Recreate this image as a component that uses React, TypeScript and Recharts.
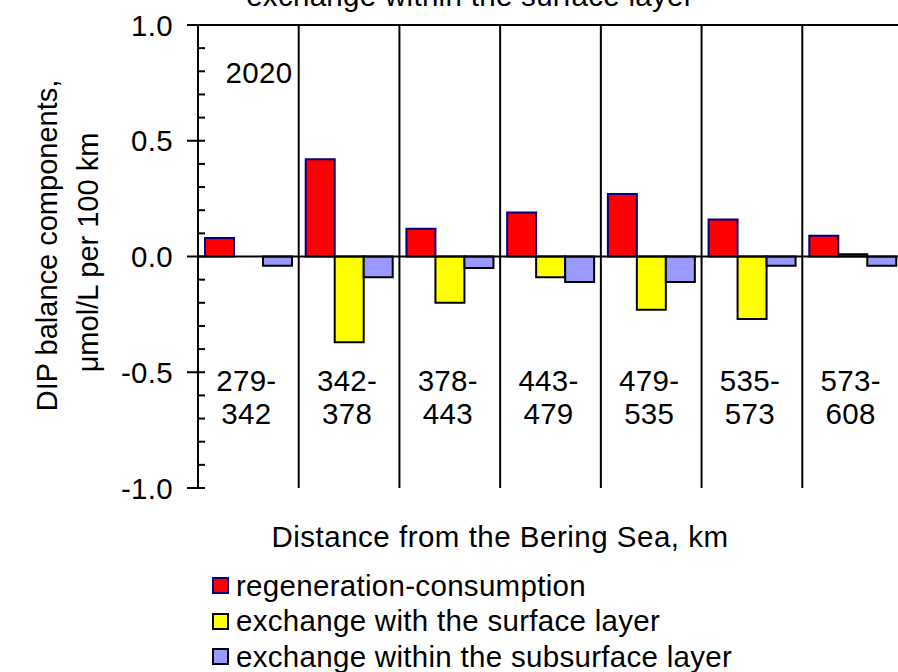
import {
  BarChart,
  Bar,
  XAxis,
  YAxis,
  CartesianGrid,
  ReferenceLine,
  Legend,
  Label,
  Customized,
} from "recharts";

const FONT = "'Liberation Sans', Arial, sans-serif";
const FS = 29.5;
const LS = 0.3;

const ranges = ["279-342", "342-378", "378-443", "443-479", "479-535", "535-573", "573-608"];
const regeneration = [0.08, 0.42, 0.12, 0.19, 0.27, 0.16, 0.09];
const surfaceExchange = [null, -0.37, -0.2, -0.09, -0.23, -0.27, 0.01];
const subsurfaceExchange = [-0.04, -0.09, -0.05, -0.11, -0.11, -0.04, -0.04];

const yTicks = [-1.0, -0.9, -0.8, -0.7, -0.6, -0.5, -0.4, -0.3, -0.2, -0.1, 0, 0.1, 0.2, 0.3, 0.4, 0.5, 0.6, 0.7, 0.8, 0.9, 1.0];
const majorTicks = [-1.0, -0.5, 0, 0.5, 1.0];

const seriesKeys = ["reg", "surf", "sub"];
const seriesNames = [
  "regeneration-consumption",
  "exchange with the surface layer",
  "exchange within the subsurface layer",
];

const seriesStyle: Record<string, { fill: string; stroke: string }> = {
  reg: { fill: "#FF0000", stroke: "#000080" },
  surf: { fill: "#FFFF00", stroke: "#000000" },
  sub: { fill: "#9999FF", stroke: "#000000" },
};

const data = ranges.map((range, i) => ({
  range,
  reg: regeneration[i],
  surf: surfaceExchange[i],
  sub: subsurfaceExchange[i],
}));

function YTick(props: any) {
  const { x, y, payload } = props;
  const v = payload.value;
  const major = majorTicks.some((m) => Math.abs(m - v) < 1e-6);
  return (
    <g>
      <line x1={major ? x - 11 : x} x2={x + 7} y1={y} y2={y} stroke="#000" strokeWidth={2} />
      {major && (
        <text x={x - 25} y={y} dy="0.36em" textAnchor="end" fontSize={FS} letterSpacing={LS} fontFamily={FONT} fill="#000">
          {v.toFixed(1)}
        </text>
      )}
    </g>
  );
}

function XTick(props: any) {
  const { x, y, payload } = props;
  const [a, b] = String(payload.value).split("-");
  return (
    <text textAnchor="middle" fontSize={FS} letterSpacing={LS} fontFamily={FONT} fill="#000">
      <tspan x={x - 2} y={y - 97}>{a}-</tspan>
      <tspan x={x - 2} y={y - 64}>{b}</tspan>
    </text>
  );
}

function YTitle(props: any) {
  const { viewBox } = props;
  const cy = viewBox.y + viewBox.height / 2;
  return (
    <g fontSize={29} fontFamily={FONT} fill="#000">
      <text x={47} y={cy - 11} transform={`rotate(-90 47 ${cy - 11})`} textAnchor="middle" dominantBaseline="central">
        DIP balance components,
      </text>
      <text x={88} y={cy - 4} transform={`rotate(-90 88 ${cy - 4})`} textAnchor="middle" dominantBaseline="central">
        μmol/L per 100 km
      </text>
    </g>
  );
}

function XTitle(props: any) {
  const { viewBox } = props;
  return (
    <text x={viewBox.x + 302} y={viewBox.y + 59} textAnchor="middle" fontSize={FS} letterSpacing={0.5} fontFamily={FONT} fill="#000">
      Distance from the Bering Sea,  km
    </text>
  );
}

function LegendContent(props: any) {
  const items = [...(props.payload || [])].sort(
    (p: any, q: any) => seriesKeys.indexOf(p.dataKey) - seriesKeys.indexOf(q.dataKey)
  );
  return (
    <div style={{ fontFamily: FONT, fontSize: FS, letterSpacing: LS, color: "#000" }}>
      {items.map((item: any) => {
        const st = seriesStyle[item.dataKey];
        return (
          <div key={item.dataKey} style={{ display: "flex", alignItems: "center", height: 35.5, whiteSpace: "nowrap" }}>
            <span
              style={{
                display: "inline-block",
                width: 13,
                height: 13,
                background: st.fill,
                border: `2px solid ${st.stroke}`,
                marginRight: 7,
              }}
            />
            <span>{item.value}</span>
          </div>
        );
      })}
    </div>
  );
}

function Annotations() {
  return (
    <g fontSize={FS} fontFamily={FONT} fill="#000" letterSpacing={LS}>
      <text x={470} y={6} textAnchor="middle">exchange within the surface layer</text>
      <text x={259} y={72} dy="0.36em" textAnchor="middle">2020</text>
    </g>
  );
}

export default function App() {
  return (
    <div style={{ position: "absolute", left: 0, top: 0, width: 898, height: 672, overflow: "hidden", background: "#fff" }}>
      <BarChart
        width={903}
        height={672}
        data={data}
        margin={{ top: 25, right: 0, bottom: 0, left: 0 }}
        barCategoryGap={7}
        barGap={0}
      >
        <CartesianGrid
          stroke="#000"
          strokeWidth={2}
          horizontalCoordinatesGenerator={({ offset }: any) => [offset.top]}
          verticalCoordinatesGenerator={({ offset }: any) =>
            ranges.map((_, i) => offset.left + (offset.width * (i + 1)) / ranges.length)
          }
        />
        <XAxis
          dataKey="range"
          height={184}
          axisLine={false}
          tickLine={false}
          tickSize={0}
          tickMargin={0}
          interval={0}
          tick={<XTick />}
        >
          <Label content={<XTitle />} />
        </XAxis>
        <YAxis
          width={198}
          domain={[-1, 1]}
          ticks={yTicks}
          interval={0}
          tickSize={0}
          tickMargin={0}
          tickLine={false}
          axisLine={{ stroke: "#000", strokeWidth: 2 }}
          tick={<YTick />}
          allowDataOverflow
        >
          <Label content={<YTitle />} />
        </YAxis>
        <ReferenceLine y={0} stroke="#000" strokeWidth={2} />
        <Bar dataKey="reg" name={seriesNames[0]} fill={seriesStyle.reg.fill} stroke={seriesStyle.reg.stroke} strokeWidth={2} isAnimationActive={false} />
        <Bar dataKey="surf" name={seriesNames[1]} fill={seriesStyle.surf.fill} stroke={seriesStyle.surf.stroke} strokeWidth={2} isAnimationActive={false} />
        <Bar dataKey="sub" name={seriesNames[2]} fill={seriesStyle.sub.fill} stroke={seriesStyle.sub.stroke} strokeWidth={2} isAnimationActive={false} />
        <Legend
          layout="vertical"
          align="center"
          verticalAlign="middle"
          itemSorter={null as any}
          content={<LegendContent />}
          wrapperStyle={{ left: 212, top: 568, width: "auto" }}
        />
        <Customized component={Annotations} />
      </BarChart>
    </div>
  );
}
